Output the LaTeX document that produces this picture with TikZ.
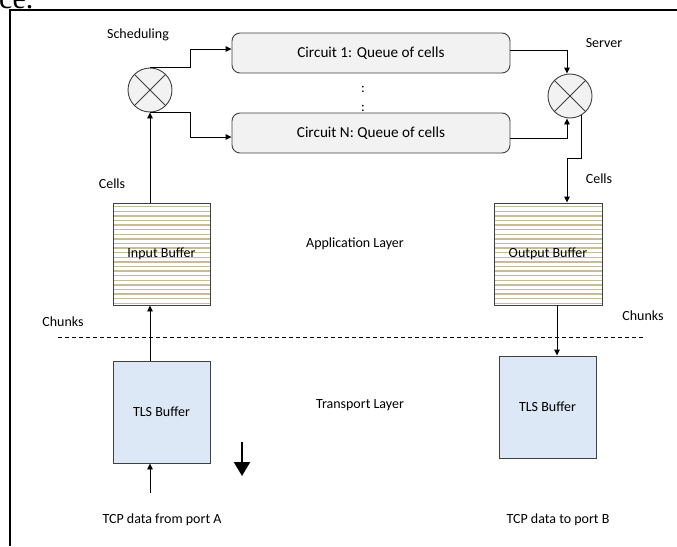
\documentclass[tikz,border=0pt]{standalone}
\usepackage{fontspec}
\setmainfont{Carlito}
\newfontfamily\serifface{Liberation Serif}
\usetikzlibrary{arrows.meta,calc}

\definecolor{boxgray}{HTML}{F2F2F2}
\definecolor{stripe}{RGB}{200,188,152}
\definecolor{tlsblue}{HTML}{DCE8F6}
\definecolor{edge}{HTML}{404040}

\begin{document}
\begin{tikzpicture}[x=1pt,y=-1pt,
  font=\fontsize{14}{16}\selectfont,
  conn/.style={line width=0.9pt,-{Triangle[length=6pt,width=5.5pt]}},
  mux/.style={circle,draw=edge,fill=boxgray,line width=0.9pt,minimum size=44pt,inner sep=0pt},
  queue/.style={draw=edge,fill=boxgray,rounded corners=8pt,line width=0.9pt,
    minimum width=278pt,minimum height=40pt,font=\fontsize{15.2}{17}\selectfont},
  buf/.style={draw=edge,line width=0.9pt,minimum height=102pt,inner sep=0pt},
  striped/.style={fill=white,path picture={
      \foreach \k in {1,...,22}
        \draw[stripe,line width=1.4pt]
          ($(path picture bounding box.north west)+(-5,\k*4.6-1)$) -- ++(130,0);}},
  tls/.style={fill=tlsblue},
  lbl/.style={inner sep=0pt},
  layerline/.style={line width=0.9pt,dash pattern=on 4pt off 3pt}]

\useasboundingbox (0,0) rectangle (677,546);
\fill[white] (0,0) rectangle (677,546);

% tail of the preceding sentence and the figure frame
\node[anchor=base west,inner sep=0pt,font=\serifface\fontsize{30}{30}\selectfont] (pagetext) at (-1,8.5) {ce.};
\draw[line width=2pt] (10,546) -- (10,10) -- (677,10);

% scheduler, circuit queues and server
\node[mux] (mux1) at (150,90) {};
\draw[edge,line width=0.8pt] (mux1.45) -- (mux1.225) (mux1.135) -- (mux1.315);
\node[queue] (c1) at (371,53) {Circuit 1: Queue of cells};
\node[queue] (cN) at (371,133) {Circuit N: Queue of cells};
\node[mux] (mux2) at (570,96) {};
\draw[edge,line width=0.8pt] (mux2.45) -- (mux2.225) (mux2.135) -- (mux2.315);
\node[lbl] (dot1) at (363,89) {:};
\node[lbl] (dot2) at (363,108) {:};

% buffers
\node[buf,striped,minimum width=97pt] (inbuf) at (161.5,254) {Input Buffer};
\node[buf,striped,minimum width=108pt] (outbuf) at (548,254) {Output Buffer};
\node[buf,tls,minimum width=97pt] (intls) at (161.5,412) {TLS Buffer};
\node[buf,tls,minimum width=97pt] (outtls) at (547.5,407) {TLS Buffer};

% labels
\node[lbl] (lsched) at (138,35) {Scheduling};
\node[lbl] (lserver) at (604,43) {Server};
\node[lbl] (lcellsA) at (112,184) {Cells};
\node[lbl] (lcellsB) at (599,179) {Cells};
\node[lbl] (lapp) at (355,244) {Application Layer};
\node[lbl] (ltrans) at (360,405) {Transport Layer};
\node[lbl] (lchunkA) at (63,322) {Chunks};
\node[lbl] (lchunkB) at (643,316) {Chunks};
\node[lbl] (lportA) at (162,520) {TCP data from port A};
\node[lbl] (lportB) at (558,520) {TCP data to port B};

% layer boundary
\coordinate (dl) at (58,337);
\coordinate (dr) at (645,337);
\draw[layerline] (dl) -- (dr);

% connectors
\draw[conn] (mux1.north) -- ++(40,0) |- ([yshift=4pt]c1.west);
\draw[conn] (mux1.south) -- ++(40,0) |- ([yshift=-4pt]cN.west);
\draw[conn] ([yshift=3pt]c1.east) -| ([xshift=-3pt]mux2.north);
\draw[conn] ([yshift=-5pt]cN.east) -| ([xshift=-3pt]mux2.south);
\draw[conn] (mux2.-60) -- ++(0,43) -| ([xshift=19pt]outbuf.north);
\draw[conn] (mux1.south |- inbuf.north) -- (mux1.south);
\draw[conn] (mux1.south |- intls.north) -- (mux1.south |- inbuf.south);
\coordinate (tcpA) at (150,493);
\draw[conn] (tcpA) -- (tcpA |- intls.south);
\coordinate (ox) at (557,0);
\draw[conn] (ox |- outbuf.south) -- (ox |- outtls.north);

% direction marker
\coordinate (da) at (242,442);
\coordinate (db) at (242,476);
\draw[line width=2.4pt,-{Triangle[length=14pt,width=16pt]}] (da) -- (db);
\end{tikzpicture}
\end{document}
